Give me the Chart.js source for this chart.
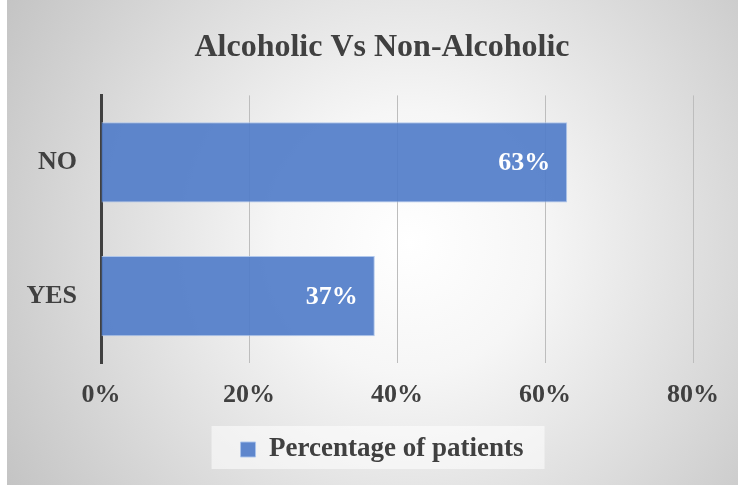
<!DOCTYPE html>
<html>
<head>
<meta charset="utf-8">
<script src="https://cdn.jsdelivr.net/npm/chart.js@4.4.1/dist/chart.umd.min.js"></script>
<style>
    html, body { margin: 0; padding: 0; background: #ffffff; overflow: hidden; }
    #frame {
        position: absolute;
        left: 7px;
        top: 0;
        width: 731px;
        height: 485px;
        background: radial-gradient(circle farthest-corner at 55% 50%, #ffffff 0%, #f6f6f6 28%, #c4c4c4 100%);
    }
    #frame canvas { display: block; }
</style>
</head>
<body>
<div id="frame">
    <canvas id="alcohol-chart" width="731" height="485"></canvas>
</div>
<script>
// Data
const categories = ['NO', 'YES'];
const patientPercentages = [63, 37];
const xTicks = [0, 20, 40, 60, 80];
const seriesLabel = 'Percentage of patients';
const chartTitle = 'Alcoholic Vs Non-Alcoholic';

const TEXT_COLOR = '#404040';
const BAR_COLOR = 'rgba(81, 125, 201, 0.92)';
const SERIF = "'Liberation Serif', 'Times New Roman', serif";

// The category axis is kept narrow so title and legend centre further right;
// widen its box after layout so the tick labels are not clipped.
const widenCategoryAxis = {
    id: 'widenCategoryAxis',
    afterLayout(chart) {
        chart.scales.y.left = 0;
    }
};

// Lighter panel behind the legend entry
const legendPanel = {
    id: 'legendPanel',
    beforeDraw(chart) {
        const legend = chart.legend;
        if (!legend || !legend.legendHitBoxes.length) return;
        const hit = legend.legendHitBoxes[0];
        const ctx = chart.ctx;
        ctx.save();
        ctx.fillStyle = 'rgba(255, 255, 255, 0.55)';
        ctx.fillRect(hit.left - 29, legend.top, 333, 43);
        ctx.restore();
    }
};

// Percent labels inside the end of each bar
const barValueLabels = {
    id: 'barValueLabels',
    afterDatasetsDraw(chart) {
        const ctx = chart.ctx;
        const meta = chart.getDatasetMeta(0);
        ctx.save();
        ctx.font = 'bold 26px ' + SERIF;
        ctx.fillStyle = '#ffffff';
        ctx.textAlign = 'right';
        ctx.textBaseline = 'middle';
        meta.data.forEach((bar, i) => {
            const value = chart.data.datasets[0].data[i];
            ctx.fillText(value + '%', bar.x - 17, bar.y + 1);
        });
        ctx.restore();
    }
};

const ctx = document.getElementById('alcohol-chart').getContext('2d');
const alcoholChart = new Chart(ctx, {
    type: 'bar',
    data: {
        labels: categories,
        datasets: [{
            label: seriesLabel,
            data: patientPercentages,
            backgroundColor: BAR_COLOR,
            borderColor: 'rgba(170, 195, 235, 0.9)',
            borderWidth: 1,
            barPercentage: 0.6,
            categoryPercentage: 1.0
        }]
    },
    options: {
        indexAxis: 'y',
        responsive: false,
        animation: false,
        layout: {
            padding: { left: 64, right: 45, top: 0, bottom: 12 }
        },
        plugins: {
            title: {
                display: true,
                text: chartTitle,
                color: TEXT_COLOR,
                font: { family: SERIF, size: 32, weight: 'bold' },
                padding: { top: 29, bottom: 28 }
            },
            legend: {
                display: true,
                position: 'bottom',
                labels: {
                    color: TEXT_COLOR,
                    font: { family: SERIF, size: 27, weight: 'bold' },
                    boxWidth: 15,
                    boxHeight: 15,
                    padding: 10
                }
            },
            tooltip: { enabled: false }
        },
        scales: {
            x: {
                min: 0,
                max: 80,
                afterBuildTicks: (scale) => {
                    scale.ticks = xTicks.map(v => ({ value: v }));
                },
                afterFit: (scale) => { scale.height = 63; },
                ticks: {
                    color: TEXT_COLOR,
                    font: { family: SERIF, size: 26, weight: 'bold' },
                    padding: 17,
                    callback: (value) => value + '%'
                },
                grid: {
                    color: '#bdbdbd',
                    lineWidth: 1,
                    drawTicks: false
                },
                border: { display: false }
            },
            y: {
                afterFit: (scale) => { scale.width = 30; },
                ticks: {
                    color: TEXT_COLOR,
                    font: { family: SERIF, size: 26, weight: 'bold' },
                    padding: 24
                },
                grid: { display: false, drawTicks: false },
                border: { display: true, color: '#404040', width: 3 }
            }
        }
    },
    plugins: [widenCategoryAxis, legendPanel, barValueLabels]
});
</script>
</body>
</html>
